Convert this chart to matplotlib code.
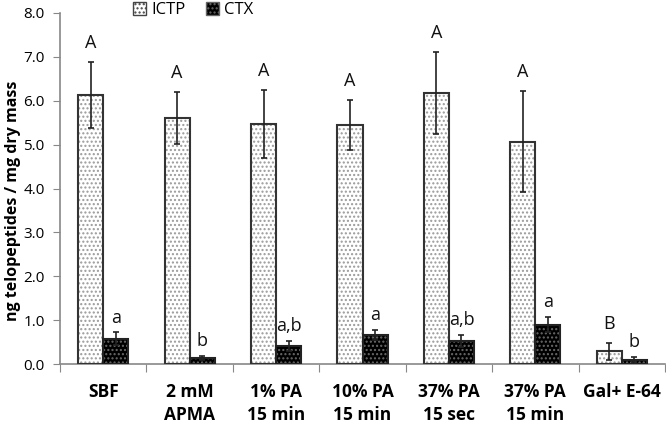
import numpy as np
import matplotlib.pyplot as plt
from matplotlib.patches import Patch

plt.rcParams['font.family'] = ['Open Sans', 'DejaVu Sans']

categories = ['SBF', '2 mM\nAPMA', '1% PA\n15 min', '10% PA\n15 min',
              '37% PA\n15 sec', '37% PA\n15 min', 'Gal+ E-64']
ictp = [6.14, 5.61, 5.47, 5.45, 6.18, 5.07, 0.29]
ictp_err = [0.75, 0.60, 0.78, 0.57, 0.93, 1.15, 0.19]
ctx = [0.58, 0.14, 0.41, 0.66, 0.52, 0.90, 0.10]
ctx_err = [0.14, 0.04, 0.11, 0.12, 0.14, 0.17, 0.06]
ictp_letters = ['A', 'A', 'A', 'A', 'A', 'A', 'B']
ctx_letters = ['a', 'b', 'a,b', 'a', 'a,b', 'a', 'b']

fig = plt.figure(figsize=(6.66, 4.24), dpi=100)
ax = fig.add_axes([60 / 666, 1 - 364 / 424, 605 / 666, 351 / 424])

x = np.arange(len(categories))
w = 0.29

# ICTP: white with grey dots, dark outline
ax.bar(x - w / 2, ictp, w, color='white', hatch='....', edgecolor='#9a9a9a', linewidth=0, zorder=2)
ax.bar(x - w / 2, ictp, w, color='none', edgecolor='#333333', linewidth=1.5, zorder=3)
# CTX: black with grey dots
ax.bar(x + w / 2, ctx, w, color='black', hatch='....', edgecolor='#6a6a6a', linewidth=0, zorder=2)
ax.bar(x + w / 2, ctx, w, color='none', edgecolor='#222222', linewidth=1.5, zorder=3)

ax.errorbar(x - w / 2, ictp, yerr=ictp_err, fmt='none', ecolor='#222222',
            elinewidth=1.2, capsize=2.5, capthick=1.2, zorder=4)
ax.errorbar(x + w / 2, ctx, yerr=ctx_err, fmt='none', ecolor='#222222',
            elinewidth=1.2, capsize=2.5, capthick=1.2, zorder=4)

for xi, v, e, t in zip(x - w / 2, ictp, ictp_err, ictp_letters):
    ax.annotate(t, (xi, v + e), xytext=(0, 10), textcoords='offset points',
                ha='center', va='baseline', fontsize=13, color='#111111')
for xi, v, e, t in zip(x + w / 2, ctx, ctx_err, ctx_letters):
    ax.annotate(t, (xi, v + e), xytext=(0, 7), textcoords='offset points',
                ha='center', va='baseline', fontsize=13, color='#111111')

ax.set_xlim(-0.5, len(categories) - 0.5)
ax.set_ylim(0, 8)
ax.set_yticks(np.arange(0, 8.1, 1.0))
ax.set_yticklabels([f'{v:.1f}' for v in np.arange(0, 8.1, 1.0)], fontsize=11)

ax.set_xticks(np.arange(len(categories) + 1) - 0.5)
ax.set_xticklabels([])
ax.set_xticks(x, minor=True)
ax.set_xticklabels(categories, minor=True, fontsize=12.5, fontweight='bold', linespacing=1.35)
ax.tick_params(axis='x', which='major', length=6, color='#888888', direction='out')
ax.tick_params(axis='x', which='minor', length=0, pad=14)
ax.tick_params(axis='y', length=5, color='#888888', pad=6)

for s in ['top', 'right']:
    ax.spines[s].set_visible(False)
for s in ['left', 'bottom']:
    ax.spines[s].set_color('#888888')
    ax.spines[s].set_linewidth(1.2)

ax.set_ylabel('ng telopeptides / mg dry mass', fontsize=11.5, fontweight='bold')
ax.yaxis.set_label_coords(-0.065, 0.465)

handles = [Patch(facecolor='white', edgecolor='#444444', hatch='....', label='ICTP'),
           Patch(facecolor='black', edgecolor='#666666', hatch='....', label='CTX')]
fig.legend(handles=handles, loc='center left', bbox_to_anchor=(133 / 666, 1 - 10 / 424),
           ncol=2, frameon=False, fontsize=12, handlelength=0.8, handleheight=0.8,
           handletextpad=0.3, columnspacing=1.2, borderpad=0, borderaxespad=0)

fig.savefig('out.png', dpi=100)
